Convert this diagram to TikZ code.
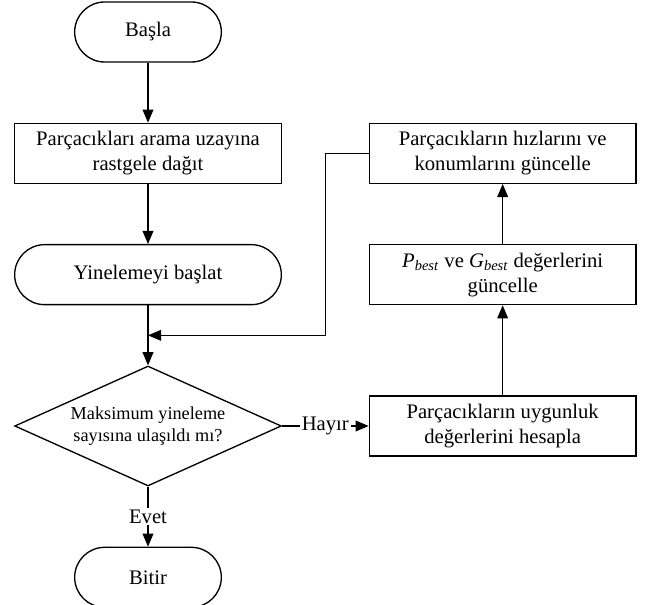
\documentclass[12pt,tikz,border=0pt]{standalone}
\usepackage{fontspec}
\setmainfont{Liberation Serif}
\usetikzlibrary{shapes.geometric, arrows, positioning, calc}
\tikzset{
    terminal/.style={rectangle, rounded corners=18pt, minimum width=88pt, minimum height=36pt, text centered, draw=black},
    process/.style={rectangle, minimum width=160pt, minimum height=36pt, text centered, align=center, draw=black},
    decision/.style={diamond, aspect=2.2, minimum width=160pt, minimum height=72pt, inner sep=0pt, text centered, align=center, draw=black, font=\small},
    arrow/.style={thick,->,>=triangle 45}
}

\begin{document}
\begin{tikzpicture}[node distance=36pt, thick, font=\fontsize{12.4}{15}\selectfont]
    \useasboundingbox (-88.8pt,19.2pt) rectangle (299.4pt,-343.8pt);
    \node (start) [terminal] at (0,0) {Başla};
    \node (scatter) [process, below=of start] {Parçacıkları arama uzayına\\rastgele dağıt};
    \node (init) [terminal, minimum width=160pt, below=of scatter] {Yinelemeyi başlat};
    \node (dec) [decision, below=of init] {Maksimum yineleme\\sayısına ulaşıldı mı?};
    \node (stop) [terminal, below=of dec] {Bitir};
    \node (fit) [process, right=52pt of dec] {Parçacıkların uygunluk\\değerlerini hesapla};
    \node (best) [process, above=54pt of fit] {\textit{P}\textsubscript{\textit{best}} ve \textit{G}\textsubscript{\textit{best}} değerlerini\\güncelle};
    \node (upd) [process, above=of best] {Parçacıkların hızlarını ve\\konumlarını güncelle};
    \coordinate (join) at ($(init.south)!0.5!(dec.north)$);

    \draw [arrow] (start) -- (scatter);
    \draw [arrow] (scatter) -- (init);
    \draw [arrow] (init) -- (dec);
    \draw [arrow] (dec) -- node[fill=white, inner sep=1pt] {Hayır} (fit);
    \draw [arrow] (dec) -- node[fill=white, inner sep=1pt] {Evet} (stop);
    \draw [arrow] (fit) -- (best);
    \draw [arrow] (best) -- (upd);
    \draw [arrow] (upd.west) -- ($(upd.west)!0.5!(scatter.east)$) |- (join);
\end{tikzpicture}
\end{document}
